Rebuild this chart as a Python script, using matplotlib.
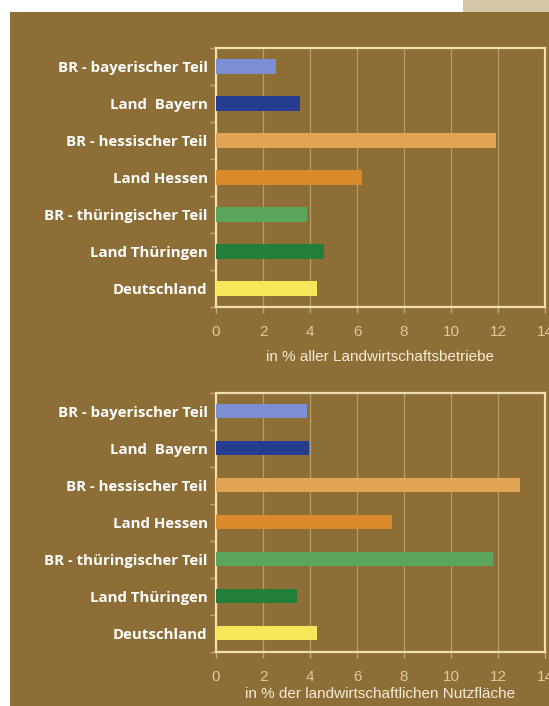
import numpy as np
import matplotlib
matplotlib.use('Agg')
import matplotlib.pyplot as plt
from matplotlib.patches import Rectangle

regions = ['BR - bayerischer Teil', 'Land  Bayern', 'BR - hessischer Teil',
           'Land Hessen', 'BR - thüringischer Teil', 'Land Thüringen',
           'Deutschland']
betriebe = [2.55, 3.57, 11.9, 6.2, 3.86, 4.6, 4.31]
flaeche = [3.86, 3.97, 12.94, 7.47, 11.8, 3.43, 4.31]
colors = ['#7b8fd2', '#263c8e', '#e2a556', '#d98b2b', '#5ba65c', '#22803b',
          '#f6e659']
xticks = [0, 2, 4, 6, 8, 10, 12, 14]

BG = '#8d6e36'
FRAME = '#efe0b0'
GRID = '#c2a973'

fig = plt.figure(figsize=(5.49, 7.06), dpi=100)
fig.patch.set_facecolor('white')
# brown panel and small tan tab at the top right
fig.add_artist(Rectangle((10 / 549, 0), 1, 1 - 12 / 706, transform=fig.transFigure,
                         facecolor=BG, edgecolor='none', zorder=-10))
fig.add_artist(Rectangle((463 / 549, 1 - 12 / 706), 1, 12 / 706,
                         transform=fig.transFigure, facecolor='#d5c6a7',
                         edgecolor='none', zorder=-10))


def panel(rect, values, xlabel, labelpad):
    ax = fig.add_axes(rect)
    ax.set_facecolor('none')
    y = np.arange(len(regions))
    ax.barh(y, values, height=0.38, color=colors, zorder=3)
    ax.set_xlim(0, 14)
    ax.set_ylim(len(regions) - 0.5, -0.5)
    ax.set_xticks(xticks)
    ax.set_xticklabels([str(t) for t in xticks], fontsize=11,
                       family='Liberation Sans', color='#dccb9c')
    ax.set_yticks(y)
    ax.set_yticklabels(regions, fontsize=10.8, fontweight='bold',
                       family=['Open Sans', 'DejaVu Sans'], color='white')
    ax.set_yticks(np.arange(len(regions) + 1) - 0.5, minor=True)
    ax.tick_params(axis='y', which='major', length=0, pad=6)
    ax.tick_params(axis='y', which='minor', length=4, color=GRID, width=1)
    ax.tick_params(axis='x', length=4, color=GRID, width=1, pad=9)
    ax.xaxis.grid(True, color=GRID, linewidth=0.9, alpha=0.8, zorder=1)
    for s in ax.spines.values():
        s.set_color(FRAME)
        s.set_linewidth(1.6)
    ax.set_xlabel(xlabel, fontsize=11, family='Liberation Sans',
                  color='#f4ecd8', labelpad=labelpad)
    return ax


panel([216 / 549, 1 - 307 / 706, 329 / 549, 259 / 706], betriebe,
      'in % aller Landwirtschaftsbetriebe', 8)
panel([216 / 549, 1 - 651.7 / 706, 329 / 549, 259 / 706], flaeche,
      'in % der landwirtschaftlichen Nutzfläche', 2)

fig.savefig('out.png', dpi=100)
